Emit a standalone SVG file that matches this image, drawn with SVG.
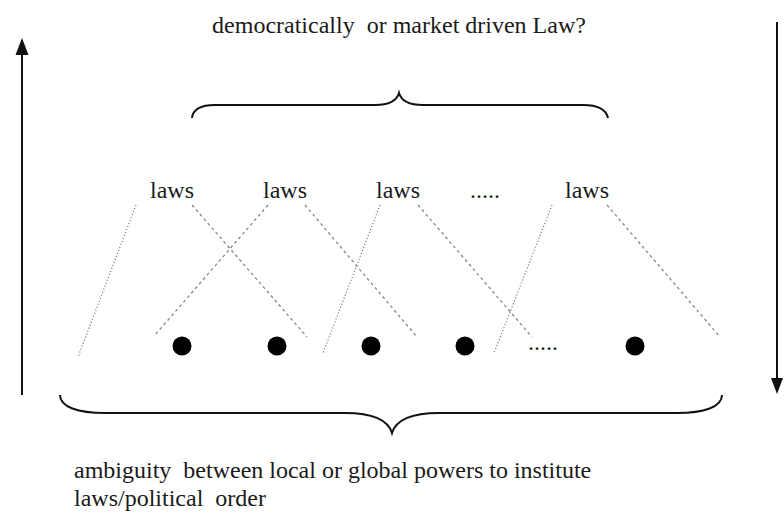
<svg xmlns="http://www.w3.org/2000/svg" width="784" height="515" viewBox="0 0 784 515">
<style>
.t{font-family:"Liberation Serif","Times New Roman",serif;font-size:24px;fill:#1a1a1a;white-space:pre}
.br{fill:none;stroke:#111;stroke-width:2}
.ax{stroke:#111;stroke-width:2}
.dot{stroke:#888;stroke-width:1.3;stroke-dasharray:1.2 2;fill:none}
.dash{stroke:#888;stroke-width:1.3;stroke-dasharray:3 3;fill:none}
.nd{fill:#000}
</style>
<defs>
<marker id="ah" viewBox="0 0 10 10" refX="9" refY="5" markerWidth="7" markerHeight="8" markerUnits="userSpaceOnUse" orient="auto">
<path d="M0,0 L10,5 L0,10 Z" fill="#111"/>
</marker>
</defs>
<rect width="784" height="515" fill="#fff"/>
<text class="t" x="399" y="33" text-anchor="middle">democratically  or market driven Law?</text>
<g id="arrows">
<line class="ax" x1="22" y1="395" x2="22" y2="40" style="marker-end:none"/>
<path d="M22,38 L15.5,55 L28.5,55 Z" fill="#111"/>
<line class="ax" x1="777" y1="22" x2="777" y2="380"/>
<path d="M777,394 L771,378 L783,378 Z" fill="#111"/>
</g>
<path id="top-brace" class="br" d="M192,118 C193,109 202,105 215,105 L375,105 C390,105 397,100 399,93 C401,100 408,105 423,105 L583,105 C596,105 606,109 608,118"/>
<path id="bottom-brace" class="br" d="M60,395 C60,407 78,413 105,413 L345,413 C372,413 388,420 392,433 C396,420 412,413 439,413 L677,413 C704,413 722,407 722,395"/>
<g id="labels">
<g id="laws1"><text class="t" x="150" y="198">laws</text></g>
<g id="laws2"><text class="t" x="263" y="198">laws</text></g>
<g id="laws3"><text class="t" x="376" y="198">laws</text></g>
<g id="ellipsis-top"><text class="t" x="470" y="198">.....</text></g>
<g id="laws4"><text class="t" x="565" y="198">laws</text></g>
</g>
<g id="connectors">
<line class="dot" x1="136" y1="205" x2="78" y2="357"/>
<line class="dash" x1="192" y1="205" x2="307" y2="337"/>
<line class="dash" x1="268" y1="205" x2="155" y2="335"/>
<line class="dash" x1="305" y1="205" x2="417" y2="337"/>
<line class="dot" x1="380" y1="205" x2="323" y2="353"/>
<line class="dash" x1="418" y1="205" x2="532" y2="337"/>
<line class="dot" x1="552" y1="205" x2="494" y2="353"/>
<line class="dash" x1="607" y1="205" x2="720" y2="337"/>
</g>
<g id="nodes">
<g id="n1"><circle class="nd" cx="182" cy="346" r="9.5"/></g>
<g id="n2"><circle class="nd" cx="277" cy="346" r="9.5"/></g>
<g id="n3"><circle class="nd" cx="371" cy="346" r="9.5"/></g>
<g id="n4"><circle class="nd" cx="465" cy="346" r="9.5"/></g>
<g id="ellipsis-bottom"><text class="t" x="528" y="350">.....</text></g>
<g id="n5"><circle class="nd" cx="635" cy="346" r="9.5"/></g>
</g>
<text class="t" x="74" y="478">ambiguity  between local or global powers to institute</text>
<text class="t" x="74" y="506">laws/political  order</text>
</svg>
